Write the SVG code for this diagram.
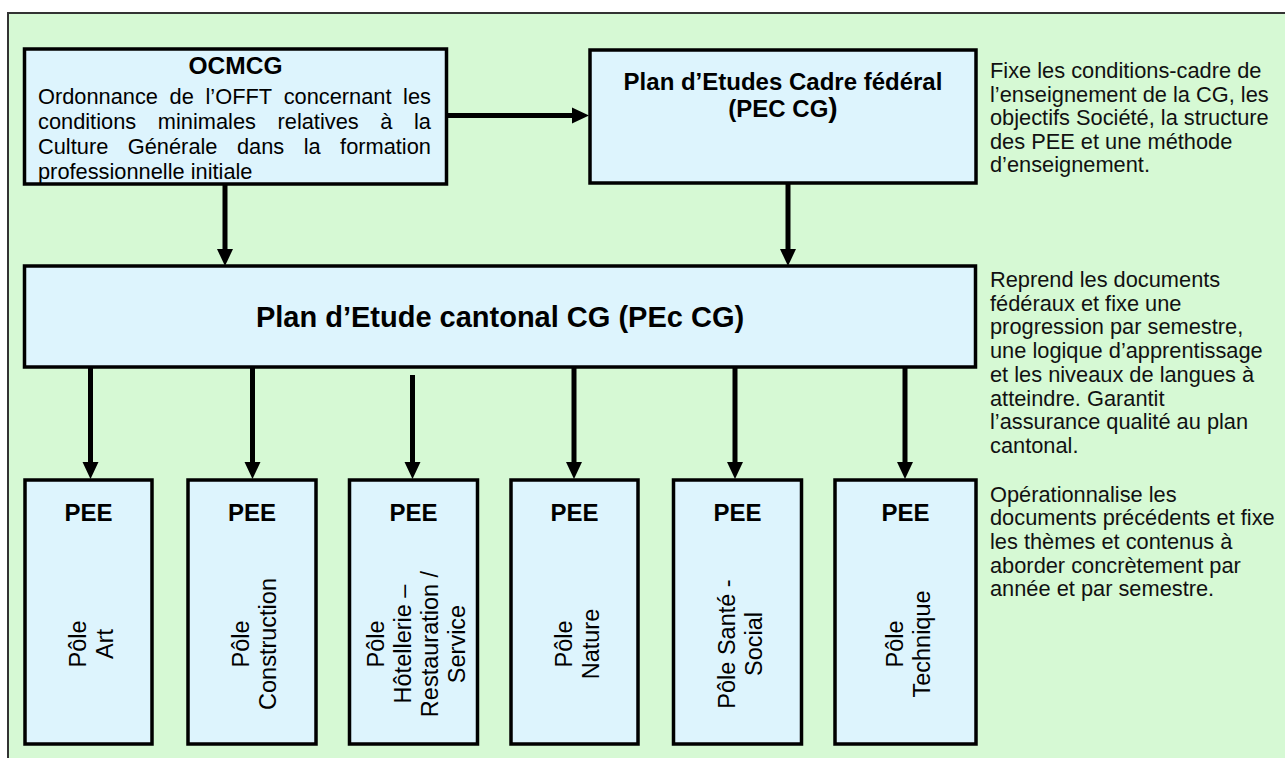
<svg xmlns="http://www.w3.org/2000/svg" width="1285" height="758" viewBox="0 0 1285 758">
<style>
text{font-family:"Liberation Sans",Arial,sans-serif;fill:#000}
.box{fill:#ddf4fd;stroke:#000;stroke-width:3.5}
.b{font-weight:bold}
.body{font-size:21.8px}
.side{font-size:21.8px;fill:#111}
.pee{font-size:24px;font-weight:bold;text-anchor:middle}
.rot{font-size:23.5px;text-anchor:middle}
.arr{stroke:#000;stroke-width:5;fill:none;marker-end:url(#ah)}
</style>
<defs>
<marker id="ah" markerUnits="userSpaceOnUse" markerWidth="17" markerHeight="16" refX="0" refY="8" orient="auto" overflow="visible">
<path d="M0,0 L17,8 L0,16 z" fill="#000"/>
</marker>
</defs>
<rect x="0" y="0" width="1285" height="758" fill="#fff"/>
<rect x="8" y="13" width="1290" height="760" fill="#d6f9d4" stroke="#333" stroke-width="2"/>

<g id="connectors">
<line class="arr" x1="447" y1="115.5" x2="572" y2="115.5"/>
<line class="arr" x1="225" y1="185" x2="225" y2="249"/>
<line class="arr" x1="788" y1="184" x2="788" y2="249"/>
<line class="arr" x1="90.5" y1="368" x2="90.5" y2="462"/>
<line class="arr" x1="252.5" y1="368" x2="252.5" y2="462"/>
<line class="arr" x1="412.5" y1="375" x2="412.5" y2="462"/>
<line class="arr" x1="574" y1="368" x2="574" y2="462"/>
<line class="arr" x1="735" y1="368" x2="735" y2="462"/>
<line class="arr" x1="905" y1="368" x2="905" y2="462"/>
</g>

<g id="ocmcg">
<rect class="box" x="24.5" y="49" width="422" height="135"/>
<text class="b" x="235.5" y="74" font-size="24.5" text-anchor="middle">OCMCG</text>
<text class="body" y="103.5"><tspan x="38">Ordonnance</tspan><tspan x="169.6">de</tspan><tspan x="205.5">l’OFFT</tspan><tspan x="283.7">concernant</tspan><tspan x="403.1">les</tspan></text>
<text class="body" y="128.5"><tspan x="38">conditions</tspan><tspan x="157.8">minimales</tspan><tspan x="277.5">relatives</tspan><tspan x="380.3">à</tspan><tspan x="414">la</tspan></text>
<text class="body" y="153.5"><tspan x="38">Culture</tspan><tspan x="127.8">Générale</tspan><tspan x="236.9">dans</tspan><tspan x="303.7">la</tspan><tspan x="340.1">formation</tspan></text>
<text class="body" x="38" y="178.5">professionnelle initiale</text>
</g>

<g id="pec-federal">
<rect class="box" x="590" y="50" width="386" height="133"/>
<text class="b" x="783" y="89.5" font-size="24" text-anchor="middle">Plan d’Etudes Cadre fédéral</text>
<text class="b" x="783" y="116.5" font-size="24" text-anchor="middle">(PEC CG<tspan font-size="28">)</tspan></text>
</g>

<g id="pec-cantonal">
<rect class="box" x="24.5" y="266" width="951" height="101"/>
<text class="b" x="500" y="327" font-size="29" text-anchor="middle">Plan d’Etude cantonal CG (PEc CG)</text>
</g>

<g id="pee-art">
<rect class="box" x="25" y="480" width="127" height="264"/>
<text class="pee" x="88.5" y="521">PEE</text>
<text class="rot" transform="translate(88.5,644) rotate(-90)"><tspan x="0" y="-3">Pôle</tspan><tspan x="0" y="24">Art</tspan></text>
</g>

<g id="pee-construction">
<rect class="box" x="188" y="480" width="128" height="264"/>
<text class="pee" x="252" y="521">PEE</text>
<text class="rot" transform="translate(252,644) rotate(-90)"><tspan x="0" y="-3">Pôle</tspan><tspan x="0" y="24">Construction</tspan></text>
</g>

<g id="pee-hotellerie">
<rect class="box" x="349.5" y="480" width="128" height="264"/>
<text class="pee" x="413.5" y="521">PEE</text>
<text class="rot" transform="translate(413.5,644) rotate(-90)"><tspan x="0" y="-30">Pôle</tspan><tspan x="0" y="-3">Hôtellerie –</tspan><tspan x="0" y="24">Restauration /</tspan><tspan x="0" y="51">Service</tspan></text>
</g>

<g id="pee-nature">
<rect class="box" x="511" y="480" width="127" height="264"/>
<text class="pee" x="574.5" y="521">PEE</text>
<text class="rot" transform="translate(574.5,644) rotate(-90)"><tspan x="0" y="-3">Pôle</tspan><tspan x="0" y="24">Nature</tspan></text>
</g>

<g id="pee-sante">
<rect class="box" x="673.5" y="480" width="128" height="264"/>
<text class="pee" x="737.5" y="521">PEE</text>
<text class="rot" transform="translate(737.5,644) rotate(-90)"><tspan x="0" y="-3">Pôle Santé -</tspan><tspan x="0" y="24">Social</tspan></text>
</g>

<g id="pee-technique">
<rect class="box" x="835" y="480" width="141" height="264"/>
<text class="pee" x="905.5" y="521">PEE</text>
<text class="rot" transform="translate(905.5,644) rotate(-90)"><tspan x="0" y="-3">Pôle</tspan><tspan x="0" y="24">Technique</tspan></text>
</g>

<g id="note-federal">
<text class="side"><tspan x="990" y="78">Fixe les conditions-cadre de</tspan><tspan x="990" y="101.5">l’enseignement de la CG, les</tspan><tspan x="990" y="125">objectifs Société, la structure</tspan><tspan x="990" y="148.5">des PEE et une méthode</tspan><tspan x="990" y="172">d’enseignement.</tspan></text>
</g>

<g id="note-cantonal">
<text class="side"><tspan x="990" y="287">Reprend les documents</tspan><tspan x="990" y="310.7">fédéraux et fixe une</tspan><tspan x="990" y="334.4">progression par semestre,</tspan><tspan x="990" y="358">une logique d’apprentissage</tspan><tspan x="990" y="381.8">et les niveaux de langues à</tspan><tspan x="990" y="405.5">atteindre. Garantit</tspan><tspan x="990" y="429.2">l’assurance qualité au plan</tspan><tspan x="990" y="453">cantonal.</tspan></text>
</g>

<g id="note-pee">
<text class="side"><tspan x="990" y="501.7">Opérationnalise les</tspan><tspan x="990" y="525.3">documents précédents et fixe</tspan><tspan x="990" y="549">les thèmes et contenus à</tspan><tspan x="990" y="572.6">aborder concrètement par</tspan><tspan x="990" y="596.2">année et par semestre.</tspan></text>
</g>
</svg>
